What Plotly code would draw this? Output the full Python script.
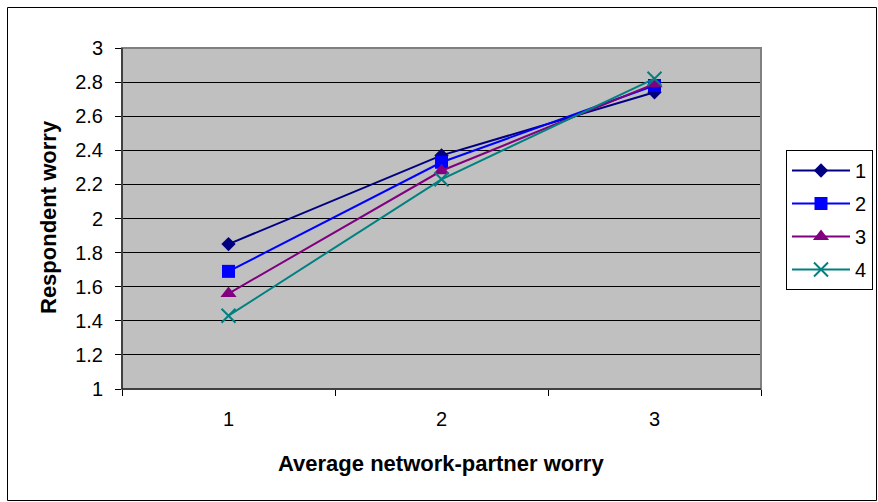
import plotly.graph_objects as go

categories = ["1", "2", "3"]
series_names = ["1", "2", "3", "4"]
s1 = [1.85, 2.37, 2.74]
s2 = [1.69, 2.33, 2.78]
s3 = [1.56, 2.28, 2.79]
s4 = [1.43, 2.23, 2.82]
y_ticks = [1, 1.2, 1.4, 1.6, 1.8, 2, 2.2, 2.4, 2.6, 2.8, 3]
x_title = "Average network-partner worry"
y_title = "Respondent worry"

colors = ["#000080", "#0000FF", "#800080", "#008080"]
symbols = ["diamond", "square", "triangle-up", "x-thin-open"]
sizes = [11, 13, 14, 14]

fig = go.Figure()
for name, vals, c, sym, sz in zip(series_names, [s1, s2, s3, s4], colors, symbols, sizes):
    marker = dict(symbol=sym, size=sz, color=c)
    if sym == "x-thin-open":
        marker["line"] = dict(color=c, width=2)
    fig.add_trace(go.Scatter(x=categories, y=vals, name=name, mode="lines+markers",
                             legendgroup=name,
                             line=dict(color=c, width=2), marker=marker))

L, R, T, B = 122, 761, 48, 389
W, H = 878, 502
pw, ph = R - L, B - T

def px(x):
    return (x - L) / pw

def py(y):
    return (B - y) / ph

FONT = "Liberation Sans, Arial, sans-serif"

fig.update_layout(
    width=W, height=H,
    margin=dict(l=L, r=W - R, t=T, b=H - B, autoexpand=False),
    paper_bgcolor="white",
    plot_bgcolor="#C0C0C0",
    font=dict(family=FONT, size=20, color="black"),
    showlegend=True,
    legend=dict(x=px(786), y=py(150), xanchor="left", yanchor="top",
                bordercolor="black", borderwidth=1, bgcolor="white",
                font=dict(size=20), tracegroupgap=4, itemwidth=58),
    xaxis=dict(type="category", range=[-0.5, 2.5], tickson="boundaries",
               ticks="outside", ticklen=6, tickcolor="black",
               showline=True, linecolor="black", linewidth=1,
               showgrid=False, tickfont=dict(size=20), ticklabelstandoff=12),
    yaxis=dict(range=[1, 3], tickvals=y_ticks, ticktext=[f"{v:g}" for v in y_ticks],
               ticks="outside", ticklen=6, tickcolor="black",
               showline=True, linecolor="black", linewidth=1,
               showgrid=True, gridcolor="black", gridwidth=1, zeroline=False,
               tickfont=dict(size=20), ticklabelstandoff=8),
    annotations=[
        dict(text=f"<b>{x_title}</b>", xref="paper", yref="paper", x=px(441), y=py(463),
             xanchor="center", yanchor="middle", showarrow=False, font=dict(size=22)),
        dict(text=f"<b>{y_title}</b>", xref="paper", yref="paper", x=px(48), y=py(217),
             xanchor="center", yanchor="middle", showarrow=False, textangle=-90, font=dict(size=22)),
    ],
    shapes=[
        dict(type="rect", xref="paper", yref="paper", x0=0, x1=1, y0=0, y1=1,
             line=dict(color="#808080", width=2), layer="above"),
        dict(type="line", xref="paper", yref="paper", x0=0, x1=0, y0=0, y1=1,
             line=dict(color="black", width=1)),
        dict(type="line", xref="paper", yref="paper", x0=0, x1=1, y0=0, y1=0,
             line=dict(color="black", width=1)),
        dict(type="rect", xref="paper", yref="paper", x0=px(7.5), x1=px(876.5), y0=py(500.5), y1=py(7.5),
             line=dict(color="black", width=1)),
    ],
)

fig.write_html("out.html", config={"displayModeBar": False},
               post_script="document.documentElement.style.overflow='hidden';"
                           "document.body.style.overflow='hidden';"
                           "document.body.style.margin='0px';document.body.style.padding='0px';")
